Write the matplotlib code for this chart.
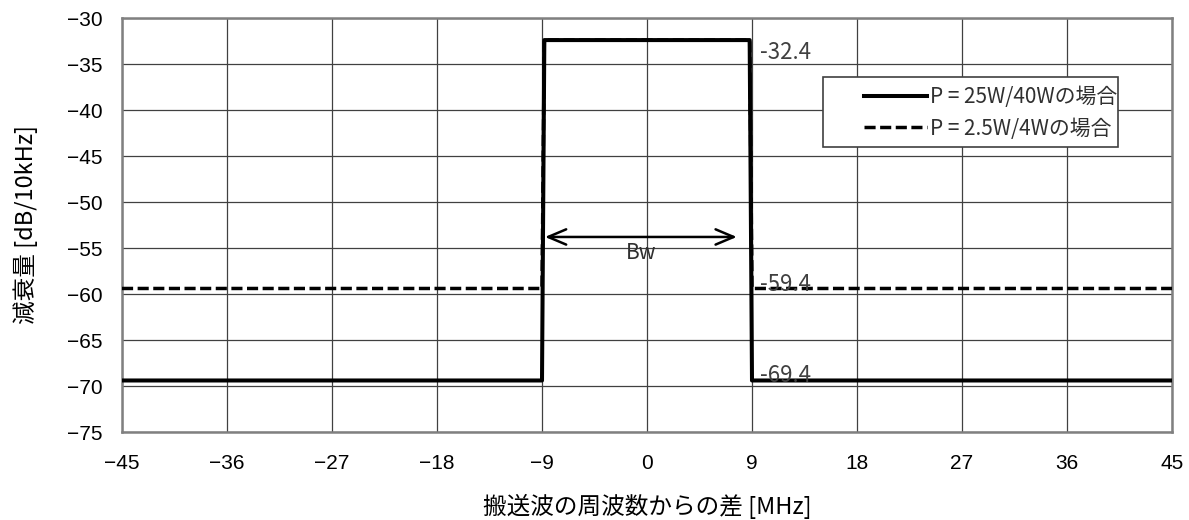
import matplotlib
matplotlib.use("Agg")
import matplotlib.pyplot as plt
from matplotlib.patches import Rectangle

plt.rcParams['font.family'] = ['Noto Sans CJK JP', 'DejaVu Sans']

# Spectrum mask data (MHz offset vs attenuation)
freq = [-45, -9, -8.8, 8.8, 9, 45]
mask_high = [-69.4, -69.4, -32.4, -32.4, -69.4, -69.4]   # P = 25W/40W
mask_low = [-59.4, -59.4, -32.4, -32.4, -59.4, -59.4]    # P = 2.5W/4W
x_ticks = [-45, -36, -27, -18, -9, 0, 9, 18, 27, 36, 45]
y_ticks = [-75, -70, -65, -60, -55, -50, -45, -40, -35, -30]
value_labels = [(-33.7, "-32.4"), (-59.0, "-59.4"), (-68.9, "-69.4")]
bw_span = (-8.75, 7.7)
bw_level = -53.8

fig = plt.figure(figsize=(11.89, 5.2), dpi=100)
ax = fig.add_axes([122 / 1189, 88 / 520, 1050 / 1189, 414 / 520])

ax.plot(freq, mask_low, color='black', lw=2.5, ls=(0, (3.2, 1.3)),
        label='P = 2.5W/4Wの場合', zorder=3)
ax.plot(freq, mask_high, color='black', lw=2.9, ls='-',
        label='P = 25W/40Wの場合', zorder=4)

ax.set_xlim(-45, 45)
ax.set_ylim(-75, -30)
ax.set_xticks(x_ticks)
ax.set_yticks(y_ticks)
ax.set_xticklabels([f"\u2212{abs(v)}" if v < 0 else str(v) for v in x_ticks])
ax.set_yticklabels([f"\u2212{abs(v)}" for v in y_ticks])
for lab in ax.get_xticklabels() + ax.get_yticklabels():
    lab.set_fontfamily(['Liberation Sans', 'DejaVu Sans'])
    lab.set_fontsize(15)
ax.tick_params(axis='x', length=0, pad=16, colors='black')
ax.tick_params(axis='y', length=0, pad=14, colors='black')
ax.grid(True, color='#404040', lw=0.9)
ax.set_axisbelow(True)
for s in ax.spines.values():
    s.set_color('#808080')
    s.set_linewidth(1.8)

ax.set_xlabel('搬送波の周波数からの差 [MHz]', fontsize=17, labelpad=15)
ax.set_ylabel('減衰量 [dB/10kHz]', fontsize=17, labelpad=21)

# Bandwidth arrow
ax.annotate('', xy=(bw_span[1], bw_level), xytext=(bw_span[0], bw_level),
            arrowprops=dict(arrowstyle='<->,head_length=1.3,head_width=0.55',
                            color='black', lw=1.8, shrinkA=0, shrinkB=0),
            zorder=5)
ax.text((bw_span[0] + bw_span[1]) / 2, bw_level - 0.5, 'Bw', fontsize=15,
        ha='center', va='top', color='#303030', zorder=5)

for val, txt in value_labels:
    ax.text(9.7, val, txt, fontsize=16, ha='left', va='center',
            color='#404040', zorder=6)

# Legend with a fixed frame box
box = Rectangle(((823 - 122) / 1050, (432 - 147) / 414), 295 / 1050, 70 / 414,
                transform=ax.transAxes, facecolor='white', edgecolor='#404040',
                lw=1.2, zorder=7)
ax.add_patch(box)
handles, labels = ax.get_legend_handles_labels()
leg = ax.legend(handles[::-1], labels[::-1], loc='center right',
                bbox_to_anchor=((1117 - 122) / 1050, (432 - 113) / 414),
                bbox_transform=ax.transAxes, fontsize=15, frameon=False,
                handlelength=3.0, handletextpad=0.15, borderpad=0.0,
                borderaxespad=0.0, labelspacing=0.45)
leg.set_zorder(8)
for t in leg.get_texts():
    t.set_color('#303030')

fig.savefig('out.png', dpi=100)
